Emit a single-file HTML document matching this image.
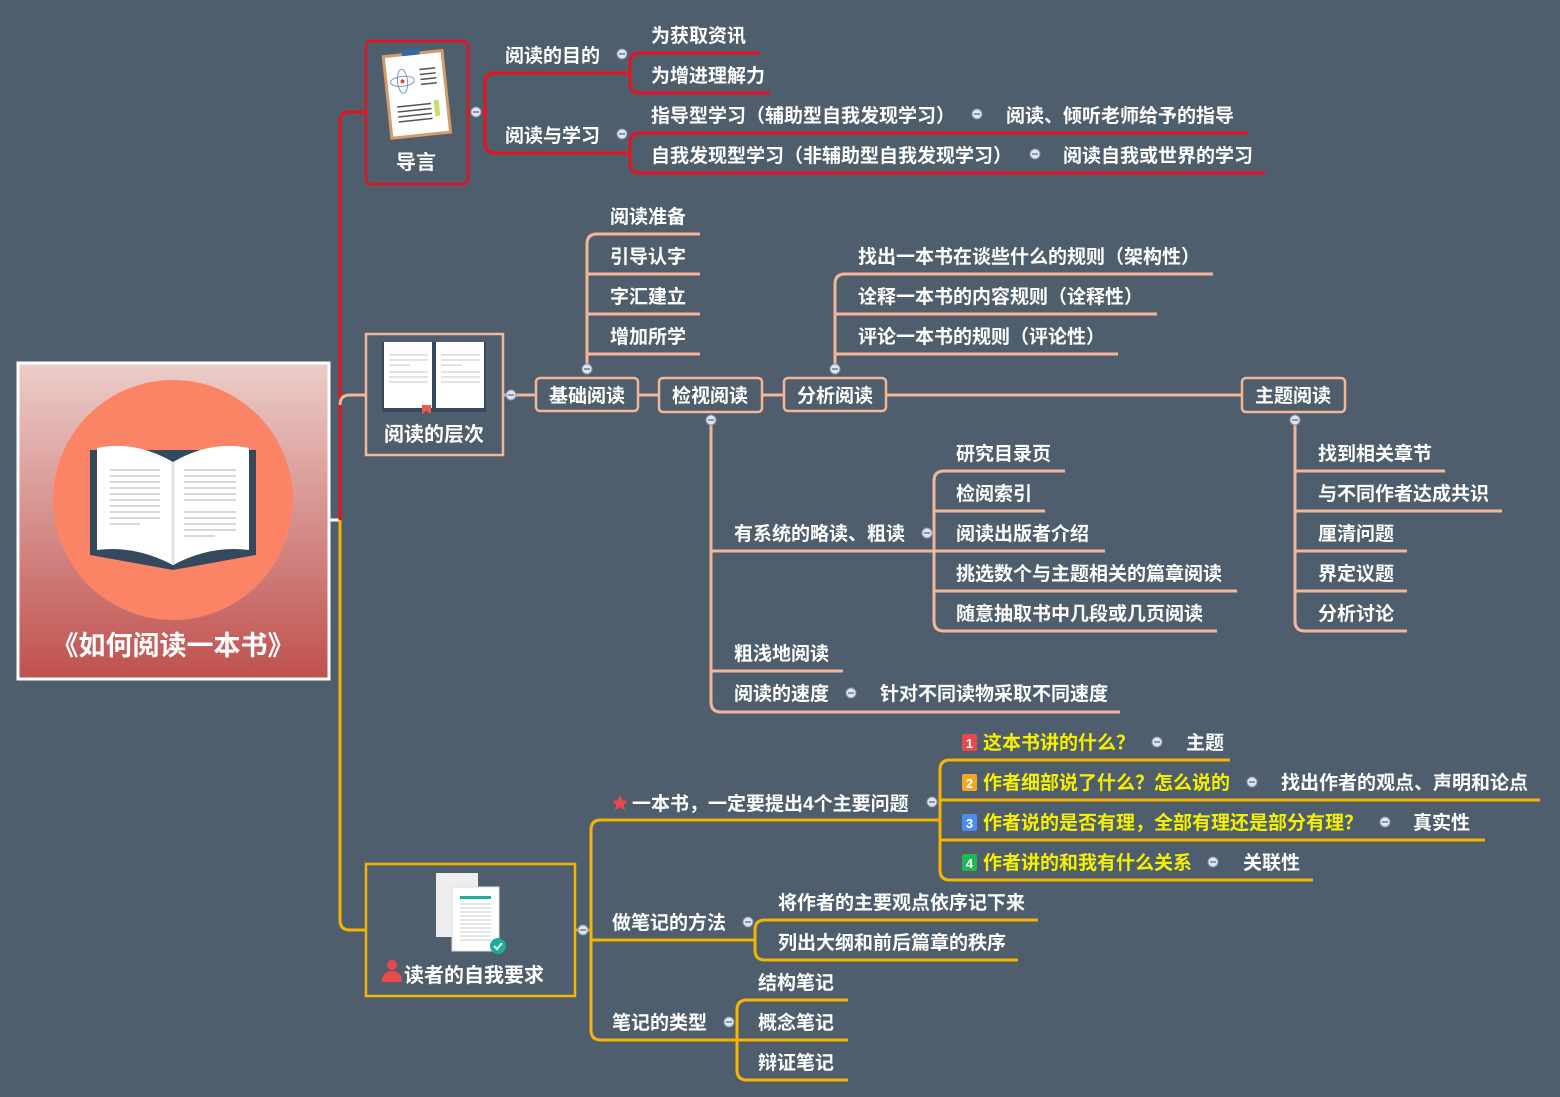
<!DOCTYPE html>
<html><head><meta charset="utf-8"><style>
html,body{margin:0;padding:0;background:#4f5e6c;}
svg{display:block}
text{font-family:"Liberation Sans","Noto Sans CJK SC",sans-serif;font-weight:bold;font-size:19px;fill:#fff;}
</style></head><body>
<svg width="1560" height="1097" viewBox="0 0 1560 1097" xmlns="http://www.w3.org/2000/svg">
<defs>
<linearGradient id="g" x1="0" y1="0" x2="0" y2="1"><stop offset="0" stop-color="#eccdc9"/><stop offset="1" stop-color="#bf514f"/></linearGradient>
</defs>
<rect width="1560" height="1097" fill="#4f5e6c"/>

<!-- trunk -->
<g fill="none" stroke-width="3">
<path d="M330 520 H340" stroke="#fff"/>
<path d="M340 520 V122 Q340 112 350 112 H366" stroke="#e8111c"/>
<path d="M340 405 Q340 395 350 395 H366" stroke="#f3b69a"/>
<path d="M340 520 V920 Q340 930 350 930 H366" stroke="#f6b300"/>
</g>

<!-- center node -->
<rect x="18" y="363" width="311" height="316" fill="url(#g)" stroke="#fff" stroke-width="3"/>
<circle cx="173" cy="500" r="120" fill="#fb8466"/>
<g>
<path d="M90 450 L90 555 L173 570 L256 555 L256 450 Z" fill="#34495e"/>
<path d="M97 448 Q135 440 173 462 Q211 440 249 448 L249 550 Q211 545 173 565 Q135 545 97 550 Z" fill="#fff"/>
<path d="M173 462 V565" stroke="#dfe3ea" stroke-width="3"/>
<g stroke="#c9cdd3" stroke-width="1.5">
<path d="M110 470H160M110 476H160M110 482H160M110 488H160M110 494H160M110 500H160M110 506H160M110 512H160M110 518H160M110 524H140"/>
<path d="M184 470H236M184 476H236M184 482H236M184 488H236M184 494H236M184 500H236M184 512H236M184 518H236M184 524H236M184 530H236M184 536H215"/>
</g>
</g>
<text x="173" y="655" text-anchor="middle" style="font-size:27px">《如何阅读一本书》</text>

<!-- 导言 -->
<rect x="366" y="41" width="102" height="143" rx="5" fill="#4f5e6c" stroke="#e8111c" stroke-width="2.5"/>
<g transform="rotate(-6 416 95)">
<rect x="386" y="52" width="62" height="85" fill="#d39a6a"/>
<rect x="389" y="55" width="56" height="79" fill="#fff"/>
<rect x="406" y="49" width="18" height="6" fill="#2f6da3"/>
<ellipse cx="404" cy="80" rx="12" ry="5" fill="none" stroke="#7a9cc0"/>
<ellipse cx="404" cy="80" rx="5" ry="12" fill="none" stroke="#7a9cc0"/>
<circle cx="404" cy="80" r="2" fill="#e04040"/>
<path d="M422 70H438M422 75H438M422 80H438M422 85H438M396 105H430M396 110H430M396 115H430M396 120H430" stroke="#555" stroke-width="1.5"/>
<rect x="433" y="102" width="5" height="16" fill="#c8e06a"/>
</g>
<text x="416" y="169" text-anchor="middle" style="font-size:20px">导言</text>

<g fill="none" stroke="#e8111c" stroke-width="3">
<path d="M468 112 H485"/>
<path d="M495 73 Q485 73 485 83 V143 Q485 153 495 153 H630"/>
<path d="M495 73 H630"/>
<path d="M640 53 Q630 53 630 63 V83 Q630 93 640 93 H770"/>
<path d="M640 53 H760"/>
<path d="M640 133 Q630 133 630 143 V163 Q630 173 640 173 H1265"/>
<path d="M640 133 H1248"/>
</g>
<text x="505" y="62">阅读的目的</text>
<text x="505" y="142">阅读与学习</text>
<text x="651" y="42">为获取资讯</text>
<text x="651" y="82">为增进理解力</text>
<text x="651" y="122">指导型学习（辅助型自我发现学习）</text>
<text x="1006" y="122">阅读、倾听老师给予的指导</text>
<text x="651" y="162">自我发现型学习（非辅助型自我发现学习）</text>
<text x="1063" y="162">阅读自我或世界的学习</text>

<!-- 阅读的层次 -->
<rect x="366" y="334" width="137" height="121" fill="#4f5e6c" stroke="#f3b69a" stroke-width="2.5"/>
<rect x="382" y="342" width="104" height="70" fill="#34495e"/>
<rect x="384" y="342" width="48" height="66" fill="#fff"/>
<rect x="436" y="342" width="48" height="66" fill="#fff"/>
<g stroke="#d8dadd" stroke-width="1.5"><path d="M389 355H428M389 360H428M389 365H410M389 372H428M389 377H428M389 382H428M441 355H480M441 360H480M441 365H462M441 372H480M441 377H480M441 382H480"/></g>
<path d="M422 405h9v9l-4.5-3-4.5 3z" fill="#f05a4a"/>
<text x="434" y="441" text-anchor="middle" style="font-size:20px">阅读的层次</text>

<g fill="none" stroke="#f3b69a" stroke-width="3">
<path d="M503 395 H1242"/>
<path d="M587 370 V244 Q587 234 597 234 H700"/>
<path d="M587 274 H700 M587 314 H700 M587 354 H700"/>
<path d="M835 370 V284 Q835 274 845 274 H1213"/>
<path d="M835 314 H1157 M835 354 H1118"/>
<path d="M711 420 V702 Q711 712 721 712 H1120"/>
<path d="M711 551 H934 M711 671 H843"/>
<path d="M944 471 Q934 471 934 481 V621 Q934 631 944 631 H1217"/>
<path d="M944 471 H1065 M934 511 H1045 M934 551 H1105 M934 591 H1237"/>
<path d="M1295 420 V621 Q1295 631 1305 631 H1407"/>
<path d="M1295 471 H1445 M1295 511 H1502 M1295 551 H1407 M1295 591 H1407"/>
</g>
<g fill="#4f5e6c" stroke="#f3b69a" stroke-width="2.5">
<rect x="536" y="378" width="102" height="33" rx="4"/>
<rect x="659" y="378" width="103" height="34" rx="4"/>
<rect x="784" y="378" width="102" height="33" rx="4"/>
<rect x="1242" y="378" width="103" height="34" rx="4"/>
</g>
<text x="587" y="402" text-anchor="middle">基础阅读</text>
<text x="710" y="402" text-anchor="middle">检视阅读</text>
<text x="835" y="402" text-anchor="middle">分析阅读</text>
<text x="1293" y="402" text-anchor="middle">主题阅读</text>
<text x="610" y="223">阅读准备</text>
<text x="610" y="263">引导认字</text>
<text x="610" y="303">字汇建立</text>
<text x="610" y="343">增加所学</text>
<text x="858" y="263">找出一本书在谈些什么的规则（架构性）</text>
<text x="858" y="303">诠释一本书的内容规则（诠释性）</text>
<text x="858" y="343">评论一本书的规则（评论性）</text>
<text x="734" y="540">有系统的略读、粗读</text>
<text x="734" y="660">粗浅地阅读</text>
<text x="734" y="700">阅读的速度</text>
<text x="880" y="700">针对不同读物采取不同速度</text>
<text x="956" y="460">研究目录页</text>
<text x="956" y="500">检阅索引</text>
<text x="956" y="540">阅读出版者介绍</text>
<text x="956" y="580">挑选数个与主题相关的篇章阅读</text>
<text x="956" y="620">随意抽取书中几段或几页阅读</text>
<text x="1318" y="460">找到相关章节</text>
<text x="1318" y="500">与不同作者达成共识</text>
<text x="1318" y="540">厘清问题</text>
<text x="1318" y="580">界定议题</text>
<text x="1318" y="620">分析讨论</text>

<!-- 读者的自我要求 -->
<rect x="366" y="864" width="209" height="132" fill="#4f5e6c" stroke="#f6b300" stroke-width="2.5"/>
<rect x="436" y="873" width="42" height="64" fill="#eceef0"/>
<rect x="452" y="887" width="47" height="64" fill="#fff" stroke="#ddd"/>
<rect x="460" y="896" width="31" height="3" fill="#1aae98"/>
<g stroke="#ccc" stroke-width="1"><path d="M460 904H491M460 908H491M460 912H491M460 916H491M460 920H491M460 924H491M460 928H491M460 932H491M460 936H491M460 940H491"/></g>
<circle cx="498" cy="946" r="8" fill="#1aae98"/>
<path d="M494 946l3 3 5-6" stroke="#fff" stroke-width="2" fill="none"/>
<circle cx="392" cy="965" r="5" fill="#e84a4a"/>
<path d="M382 982 Q382 971 392 971 Q402 971 402 982Z" fill="#e84a4a"/>
<text x="404" y="982" style="font-size:20px">读者的自我要求</text>

<g fill="none" stroke="#f6b300" stroke-width="3">
<path d="M575 930 H591"/>
<path d="M601 820 Q591 820 591 830 V1030 Q591 1040 601 1040 H737"/>
<path d="M601 820 H940 M591 940 H755"/>
<path d="M950 760 Q940 760 940 770 V870 Q940 880 950 880 H1313"/>
<path d="M950 760 H1230 M940 800 H1540 M940 840 H1485"/>
<path d="M765 920 Q755 920 755 930 V950 Q755 960 765 960 H1018"/>
<path d="M765 920 H1038"/>
<path d="M747 1000 Q737 1000 737 1010 V1070 Q737 1080 747 1080 H848"/>
<path d="M747 1000 H848 M737 1040 H848"/>
</g>
<path d="M620 795 l2.4 5.2 5.6.6-4.2 3.8 1.2 5.6-5-2.9-5 2.9 1.2-5.6-4.2-3.8 5.6-.6z" fill="#e84a4a"/>
<text x="632" y="810">一本书，一定要提出4个主要问题</text>
<text x="612" y="929">做笔记的方法</text>
<text x="612" y="1029">笔记的类型</text>
<text x="778" y="909">将作者的主要观点依序记下来</text>
<text x="778" y="949">列出大纲和前后篇章的秩序</text>
<text x="758" y="989">结构笔记</text>
<text x="758" y="1029">概念笔记</text>
<text x="758" y="1069">辩证笔记</text>

<rect x="962" y="734" width="15" height="17" rx="2" fill="#e84a4a"/><text x="969.5" y="748" text-anchor="middle" style="font-size:13px">1</text>
<rect x="962" y="774" width="15" height="17" rx="2" fill="#f5a623"/><text x="969.5" y="788" text-anchor="middle" style="font-size:13px">2</text>
<rect x="962" y="814" width="15" height="17" rx="2" fill="#4a8cf0"/><text x="969.5" y="828" text-anchor="middle" style="font-size:13px">3</text>
<rect x="962" y="854" width="15" height="17" rx="2" fill="#1cb955"/><text x="969.5" y="868" text-anchor="middle" style="font-size:13px">4</text>
<g style="fill:#ffee00">
<text x="983" y="749" style="fill:#f5f000">这本书讲的什么？</text>
<text x="983" y="789" style="fill:#f5f000">作者细部说了什么？怎么说的</text>
<text x="983" y="829" style="fill:#f5f000">作者说的是否有理，全部有理还是部分有理？</text>
<text x="983" y="869" style="fill:#f5f000">作者讲的和我有什么关系</text>
</g>
<text x="1186" y="749">主题</text>
<text x="1281" y="789">找出作者的观点、声明和论点</text>
<text x="1413" y="829">真实性</text>
<text x="1243" y="869">关联性</text>

<!-- collapse dots -->
<g fill="#dfe4ef" stroke="#8794b0" stroke-width="1">
<circle cx="476" cy="112" r="5"/><circle cx="622" cy="54" r="5"/><circle cx="622" cy="134" r="5"/>
<circle cx="977" cy="114" r="5"/><circle cx="1035" cy="154" r="5"/>
<circle cx="511" cy="395" r="5"/><circle cx="587" cy="369" r="5"/><circle cx="711" cy="420" r="5"/>
<circle cx="835" cy="369" r="5"/><circle cx="1295" cy="420" r="5"/>
<circle cx="927" cy="533" r="5"/><circle cx="851" cy="693" r="5"/>
<circle cx="583" cy="930" r="5"/><circle cx="932" cy="802" r="5"/><circle cx="748" cy="922" r="5"/><circle cx="729" cy="1022" r="5"/>
<circle cx="1157" cy="742" r="5"/><circle cx="1252" cy="782" r="5"/><circle cx="1385" cy="822" r="5"/><circle cx="1213" cy="862" r="5"/>
</g>
<g stroke="#6f7c98" stroke-width="1.5">
<path d="M473 112h6M619 54h6M619 134h6M974 114h6M1032 154h6M508 395h6M584 369h6M708 420h6M832 369h6M1292 420h6M924 533h6M848 693h6M580 930h6M929 802h6M745 922h6M726 1022h6M1154 742h6M1249 782h6M1382 822h6M1210 862h6"/>
</g>
</svg>
</body></html>
